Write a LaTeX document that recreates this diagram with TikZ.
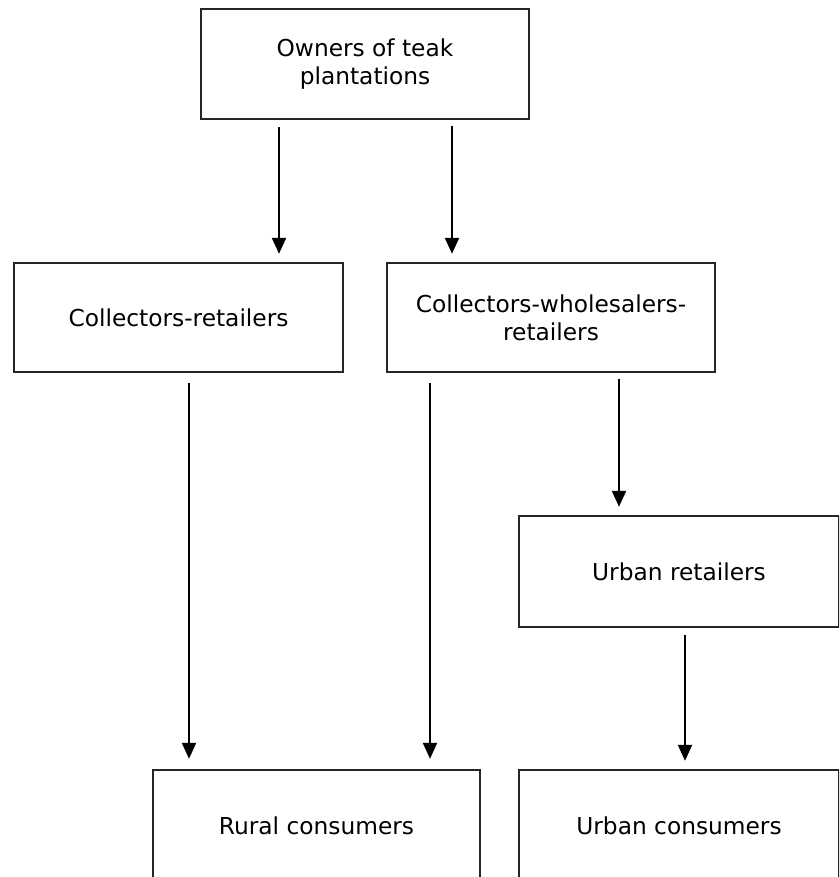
\documentclass[tikz,border=0pt]{standalone}
\usepackage{fontspec}
\setmainfont{DejaVu Sans}
\usetikzlibrary{arrows.meta}
\begin{document}
\begin{tikzpicture}[x=1pt,y=-1pt,
  box/.style={draw=black!85, line width=2.4pt, rectangle, inner sep=0pt, align=center,
    font=\fontsize{23.3}{28}\selectfont},
  arr/.style={line width=2.2pt, -{Triangle[width=14pt,length=16pt]}}]
\useasboundingbox (0,0) rectangle (839,877);
\clip (0,0) rectangle (839,877);
\node[box, minimum width=328pt, minimum height=110pt] (top) at (365,64) {Owners of teak\\plantations};
\node[box, minimum width=329pt, minimum height=109pt] (cr) at (178.5,317.5) {Collectors-retailers};
\node[box, minimum width=328pt, minimum height=109pt] (cwr) at (551,317.5) {Collectors-wholesalers-\\retailers};
\node[box, minimum width=320pt, minimum height=111pt] (ur) at (679,571.5) {Urban retailers};
\node[box, minimum width=327pt, minimum height=112pt] (rc) at (316.5,826) {Rural consumers};
\node[box, minimum width=320pt, minimum height=112pt] (uc) at (679,826) {Urban consumers};
\coordinate (x1) at (279,0);
\coordinate (x2) at (452,0);
\coordinate (x3) at (189,0);
\coordinate (x4) at (430,0);
\coordinate (x5) at (619,0);
\coordinate (x6) at (685,0);
\draw[arr, shorten <=7pt, shorten >=8pt] (top.south -| x1) -- (cr.north -| x1);
\draw[arr, shorten <=6pt, shorten >=8pt] (top.south -| x2) -- (cwr.north -| x2);
\draw[arr, shorten <=10pt, shorten >=10pt] (cr.south -| x3) -- (rc.north -| x3);
\draw[arr, shorten <=10pt, shorten >=10pt] (cwr.south -| x4) -- (rc.north -| x4);
\draw[arr, shorten <=6pt, shorten >=8pt] (cwr.south -| x5) -- (ur.north -| x5);
\draw[arr, shorten <=7pt, shorten >=8pt] (ur.south -| x6) -- (uc.north -| x6);
\end{tikzpicture}
\end{document}
